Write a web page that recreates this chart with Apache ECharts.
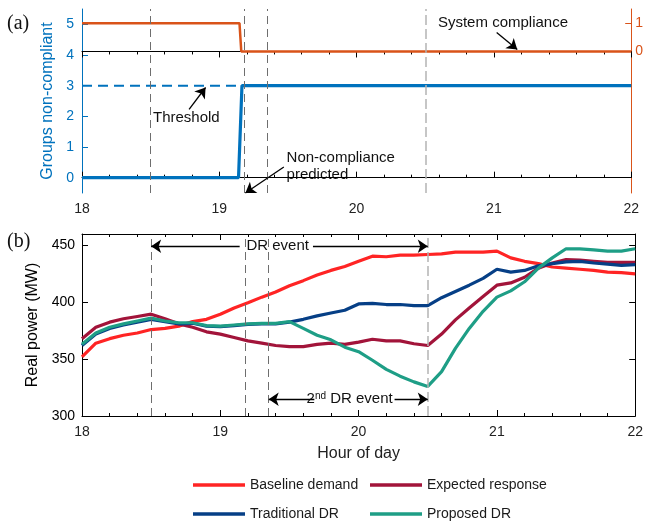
<!DOCTYPE html>
<html><head><meta charset="utf-8">
<script src="https://cdn.jsdelivr.net/npm/echarts@6/dist/echarts.min.js"></script>
<style>html,body{margin:0;padding:0;background:#fff}#c{width:646px;height:524px}</style>
</head><body><div id="c"></div><script>
// ---- data ----
const hours = [18.0,18.1,18.2,18.3,18.4,18.5,18.6,18.7,18.8,18.9,
  19.0,19.1,19.2,19.3,19.4,19.5,19.6,19.7,19.8,19.9,
  20.0,20.1,20.2,20.3,20.4,20.5,20.6,20.7,20.8,20.9,
  21.0,21.1,21.2,21.3,21.4,21.5,21.6,21.7,21.8,21.9,22.0];
const baselineDemand = [352,364,368,371,373,376,377,379,383,385,
  389.5,395,399.5,404.5,409,414.5,419,424,428,431.5,
  436,440.5,440,441.5,441.5,442,442.5,444,444,444,
  445,439,436,434,431,430,429,428,426.5,426,425];
const expectedResponse = [368,378,382.5,385.5,387.5,389.5,385.5,381,378,374,
  372,369,366,364,362,361,361,363,364,363,
  365,367.5,366,366,363.5,362,372,384.5,395,405,
  415,417,422,430,434.5,437.5,437,436,435,435,435];
const traditionalDR = [362,372,377,380,382.5,385,383,381,381.5,379,
  378.5,379.5,380.5,381,381,382.5,385,388,390.5,393,
  398.5,399,398,398,397,397,404,409.5,415,421,
  429,426.5,428,432,434,435.5,436,434.5,433.5,432.5,433];
const proposedDR = [363,373,378,381,383.5,386,383.5,382,382,379.5,
  379,380,381,381.5,381.5,383,377,371,367,360.5,
  356.5,349,341,335,330,326,339,359.5,377,392,
  404.5,410,418,430,439,447,447,446,445,445,447];

const stepHours = [18, 19.14, 19.165, 22];
const groupsNonCompliant = [0, 0, 3, 3];
const systemHours = [18, 19.147, 19.16, 22];
const systemCompliance = [1, 1, 0, 0];
const thresholdHours = [18, 19.165];
const thresholdValues = [3, 3];
const eventHours = [18.5, 19.18, 19.35, 20.5];

const xTicks = [18, 19, 20, 21, 22];
const groupTicks = [0, 1, 2, 3, 4, 5];
const complianceTicks = [0, 1];
const powerTicks = [300, 350, 400, 450];

// ---- helpers ----
const zip = (xs, ys) => xs.map((x, i) => [x, ys[i]]);
const FONT = "'Liberation Sans', Arial, sans-serif";
const BLUE = '#0072BD', ORANGE = '#D95319';
const C_BASE = '#FF2424', C_EXP = '#A2143A', C_TRAD = '#063F86', C_PROP = '#1E9E86';

function xAx(grid, pos, labels, name) {
  return {
    type: 'value', gridIndex: grid, position: pos, min: 18, max: 22, interval: 1,
    axisLine: { show: true, lineStyle: { color: '#000', width: 1 } },
    axisTick: { show: true, inside: true, length: 6, lineStyle: { color: '#000' } },
    minorTick: { show: true, splitNumber: 5, length: 3, lineStyle: { color: '#000' } },
    axisLabel: { show: labels, fontSize: 14, color: '#222', margin: 9, fontFamily: FONT },
    splitLine: { show: false }, minorSplitLine: { show: false },
    name: name || '', nameLocation: 'middle', nameGap: 30,
    nameTextStyle: { fontSize: 16, color: '#222', fontFamily: FONT }
  };
}
function yAx(grid, pos, min, max, ticks, color, labels, name, nameGap, margin) {
  return {
    type: 'value', gridIndex: grid, position: pos, min: min, max: max,
    axisLine: { show: true, lineStyle: { color: color, width: 1 } },
    axisTick: { show: true, inside: true, length: 6, customValues: ticks, lineStyle: { color: color } },
    axisLabel: { show: labels, customValues: ticks, fontSize: 14, color: color, margin: margin, fontFamily: FONT },
    splitLine: { show: false },
    name: name || '', nameLocation: 'middle', nameGap: nameGap || 20,
    nameTextStyle: { fontSize: 16, color: color, fontFamily: FONT }
  };
}

const vLines = eventHours.map((h, i) => ({
  xAxis: h,
  lineStyle: i === eventHours.length - 1
    ? { color: '#b4b4b4', width: 1.5, type: [10, 4] }
    : { color: '#6e6e6e', width: 1, type: [8, 5] }
}));
const arrow = (a, b) => [{ coord: a }, { coord: b }];
const arrowStyle = { color: '#000', width: 1.3, type: 'solid' };
const legendBase = {
  orient: 'vertical', top: 470, height: 54, icon: 'rect',
  itemWidth: 52, itemHeight: 3.5, itemGap: 9,
  textStyle: { fontSize: 14, color: '#1a1a1a', fontFamily: FONT, lineHeight: 20 }
};

const option = {
  animation: false,
  textStyle: { fontFamily: FONT },
  grid: [
    { left: 82, right: 10, top: 9, height: 184 },
    { left: 82, right: 10, top: 234, height: 182 }
  ],
  xAxis: [ xAx(0, 'bottom', true), xAx(0, 'top', false), xAx(1, 'bottom', true, 'Hour of day'), xAx(1, 'top', false) ],
  yAxis: [
    yAx(0, 'left', -0.5, 5.5, groupTicks, BLUE, true, 'Groups non-compliant', 19, 8),
    yAx(0, 'right', -5, 1.5, complianceTicks, ORANGE, true, '', 0, 4),
    yAx(1, 'left', 300, 460, powerTicks, '#000', true, 'Real power (MW)', 36, 7),
    yAx(1, 'right', 300, 460, powerTicks, '#000', false)
  ],
  legend: [
    Object.assign({ data: ['Baseline demand', 'Traditional DR'], left: 188 }, legendBase),
    Object.assign({ data: ['Expected response', 'Proposed DR'], left: 365 }, legendBase)
  ],
  series: [
    { type: 'line', name: 'threshold', xAxisIndex: 0, yAxisIndex: 0, data: zip(thresholdHours, thresholdValues),
      symbol: 'none', lineStyle: { color: BLUE, width: 2, type: [10, 6] }, silent: true,
      markLine: { silent: true, symbol: ['none', 'none'], label: { show: false }, data: vLines } },
    { type: 'line', name: 'groups', xAxisIndex: 0, yAxisIndex: 0, data: zip(stepHours, groupsNonCompliant),
      symbol: 'none', lineStyle: { color: BLUE, width: 3.2 }, silent: true, z: 3,
      markLine: { silent: true, symbol: ['none', 'arrow'], symbolSize: 10, label: { show: false }, lineStyle: arrowStyle,
        data: [ arrow([18.78, 2.23], [18.90, 2.94]), arrow([19.47, 0.35], [19.19, -0.5]), arrow([21.02, 4.73], [21.17, 4.18]) ] } },
    { type: 'line', name: 'system', xAxisIndex: 0, yAxisIndex: 1, data: zip(systemHours, systemCompliance),
      symbol: 'none', lineStyle: { color: ORANGE, width: 2.5 }, silent: true },
    { type: 'line', name: 'Baseline demand', xAxisIndex: 2, yAxisIndex: 2, data: zip(hours, baselineDemand),
      symbol: 'none', color: C_BASE, lineStyle: { color: C_BASE, width: 3.2 },
      markLine: { silent: true, symbol: ['none', 'none'], label: { show: false }, data: vLines } },
    { type: 'line', name: 'Expected response', xAxisIndex: 2, yAxisIndex: 2, data: zip(hours, expectedResponse),
      symbol: 'none', color: C_EXP, lineStyle: { color: C_EXP, width: 3.2 },
      markLine: { silent: true, symbol: ['none', 'arrow'], symbolSize: 10, label: { show: false }, lineStyle: arrowStyle,
        data: [ arrow([19.14, 449.2], [18.5, 449.2]), arrow([19.67, 449.2], [20.5, 449.2]),
                arrow([19.68, 314.7], [19.35, 314.7]), arrow([20.26, 314.7], [20.5, 314.7]) ] } },
    { type: 'line', name: 'Traditional DR', xAxisIndex: 2, yAxisIndex: 2, data: zip(hours, traditionalDR),
      symbol: 'none', color: C_TRAD, lineStyle: { color: C_TRAD, width: 3.2 } },
    { type: 'line', name: 'Proposed DR', xAxisIndex: 2, yAxisIndex: 2, data: zip(hours, proposedDR),
      symbol: 'none', color: C_PROP, lineStyle: { color: C_PROP, width: 3.2 } }
  ]
};

const chart = echarts.init(document.getElementById('c'), null, { renderer: 'canvas' });
chart.setOption(option);

const p0 = (x, y) => chart.convertToPixel({ gridIndex: 0 }, [x, y]);
const p1 = (x, y) => chart.convertToPixel({ gridIndex: 1 }, [x, y]);
const txt = (pt, text, align, extra) => Object.assign({
  type: 'text', x: pt[0], y: pt[1], silent: true,
  style: { text: text, fontSize: 15, fill: '#111', fontFamily: FONT, align: align || 'center', verticalAlign: 'middle' }
}, extra || {});

const g = [
  { type: 'text', left: 7, top: 14, silent: true, style: { text: '(a)', fontSize: 20, fill: '#111', fontFamily: "'Liberation Serif', 'Times New Roman', serif" } },
  { type: 'text', left: 7, top: 232, silent: true, style: { text: '(b)', fontSize: 20, fill: '#111', fontFamily: "'Liberation Serif', 'Times New Roman', serif" } },
  txt(p0(18.76, 1.94), 'Threshold'),
  txt(p0(21.066, 5.05), 'System compliance'),
  txt(p0(19.49, 0.36), 'Non-compliance\npredicted', 'left', {}),
  txt(p1(19.415, 449.2), 'DR event'),
  { type: 'text', x: p1(19.935, 314.7)[0], y: p1(19.935, 314.7)[1], silent: true,
    style: { text: '{n|2}{s|nd}{n| DR event}', fontFamily: FONT, align: 'center', verticalAlign: 'middle', fill: '#111',
      rich: { n: { fontSize: 15, fill: '#111', fontFamily: FONT }, s: { fontSize: 10, fill: '#111', fontFamily: FONT, verticalAlign: 'top', padding: [0, 0, 6, 0] } } } }
];
g[4].style.lineHeight = 17;
chart.setOption({ graphic: g });
</script></body></html>
